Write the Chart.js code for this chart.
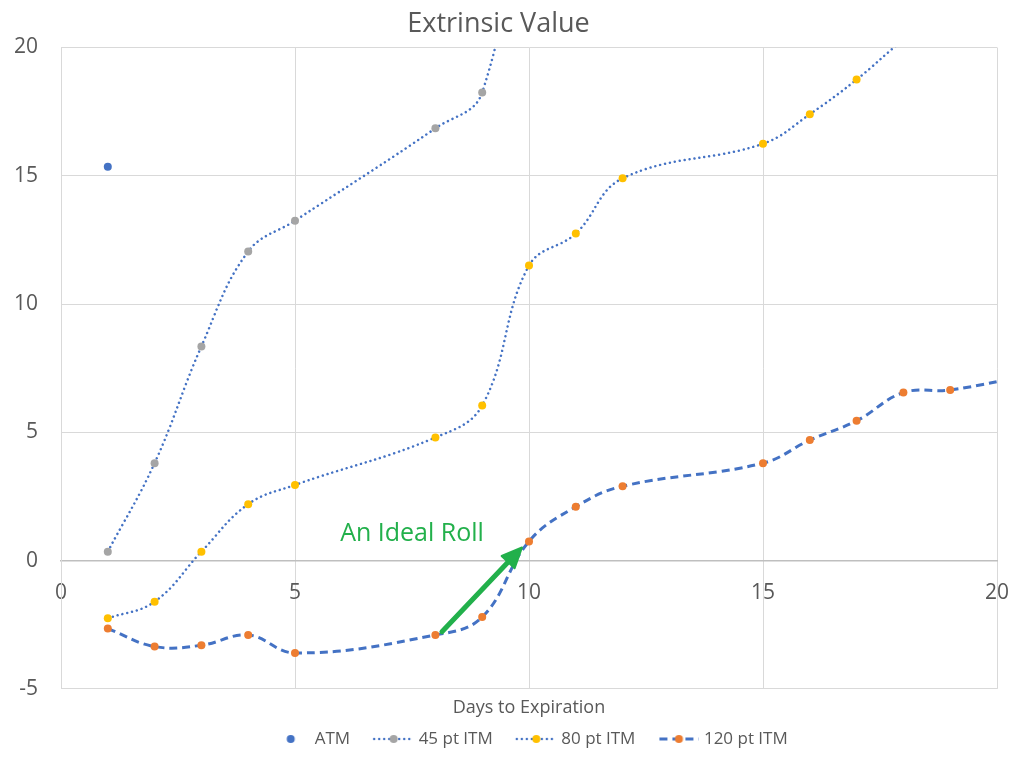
<!DOCTYPE html>
<html>
<head>
<meta charset="utf-8">
<title>Extrinsic Value</title>
<script src="https://cdn.jsdelivr.net/npm/chart.js@4.4.1/dist/chart.umd.min.js"></script>
<style>
  html, body { margin: 0; padding: 0; background: #fff; }
  #wrap { width: 1024px; height: 757px; position: relative; }
</style>
</head>
<body>
<div id="wrap"><canvas id="chartExtrinsic"></canvas></div>
<script>
// Days to expiration and extrinsic value per strike distance
var atmDays = [1];
var atmValues = [15.35];

var days45 = [1, 2, 3, 4, 5, 8, 9, 10];
var itm45 = [0.35, 3.8, 8.35, 12.05, 13.25, 16.85, 18.25, 28];

var days80 = [1, 2, 3, 4, 5, 8, 9, 10, 11, 12, 15, 16, 17, 18, 19];
var itm80 = [-2.25, -1.6, 0.35, 2.2, 2.95, 4.8, 6.05, 11.5, 12.75, 14.9, 16.25, 17.4, 18.75, 20.3, 21.6];

var days120 = [1, 2, 3, 4, 5, 8, 9, 10, 11, 12, 15, 16, 17, 18, 19, 21];
var itm120 = [-2.65, -3.35, -3.3, -2.9, -3.6, -2.9, -2.2, 0.75, 2.1, 2.9, 3.8, 4.7, 5.45, 6.55, 6.65, 7.35];

var xTicks = [0, 5, 10, 15, 20];
var yTicks = [-5, 0, 5, 10, 15, 20];

(function () {
  "use strict";

  var colors = {
    line: "#4472C4",
    atm: "#4472C4",
    gray: "#A5A5A5",
    yellow: "#FFC000",
    orange: "#ED7D31",
    text: "#595959",
    grid: "#D9D9D9",
    axis: "#BFBFBF",
    note: "#22B04B",
  };
  var FONT = "'Open Sans', 'Noto Sans', sans-serif";
  var DOTS = [0.01, 5];
  var DASHES = [8, 5];

  function pairs(xs, ys) {
    return xs.map(function (x, i) {
      return { x: x, y: ys[i] };
    });
  }

  // legend sample: short line with the marker in the middle
  function sample(dash, width, markerColor) {
    var c = document.createElement("canvas");
    c.width = 44;
    c.height = 14;
    var g = c.getContext("2d");
    if (dash) {
      g.strokeStyle = colors.line;
      g.lineWidth = width;
      g.lineCap = dash[0] < 1 ? "round" : "butt";
      g.setLineDash(dash);
      g.beginPath();
      g.moveTo(4, 7);
      g.lineTo(43.5, 7);
      g.stroke();
    }
    g.fillStyle = markerColor;
    g.beginPath();
    g.arc(dash ? 23.5 : 24.5, 7, 4, 0, Math.PI * 2);
    g.fill();
    return c;
  }

  var arrowPlugin = {
    id: "idealRoll",
    afterDatasetsDraw: function (chart) {
      var sx = chart.scales.x;
      var sy = chart.scales.y;
      var ctx = chart.ctx;
      var x0 = sx.getPixelForValue(8.14), y0 = sy.getPixelForValue(-2.77);
      var x1 = sx.getPixelForValue(9.85), y1 = sy.getPixelForValue(0.51);
      var ang = Math.atan2(y1 - y0, x1 - x0);
      var head = 22;
      ctx.save();
      ctx.strokeStyle = colors.note;
      ctx.fillStyle = colors.note;
      ctx.lineWidth = 5;
      ctx.lineCap = "round";
      ctx.beginPath();
      ctx.moveTo(x0, y0);
      ctx.lineTo(x1 - Math.cos(ang) * 8, y1 - Math.sin(ang) * 8);
      ctx.stroke();
      ctx.lineJoin = "round";
      ctx.lineWidth = 2;
      ctx.beginPath();
      ctx.moveTo(x1, y1);
      ctx.lineTo(x1 - Math.cos(ang - 0.42) * head, y1 - Math.sin(ang - 0.42) * head);
      ctx.lineTo(x1 - Math.cos(ang + 0.42) * head, y1 - Math.sin(ang + 0.42) * head);
      ctx.closePath();
      ctx.fill();
      ctx.stroke();

      ctx.font = "25px " + FONT;
      ctx.textAlign = "center";
      ctx.textBaseline = "middle";
      ctx.fillText("An Ideal Roll", sx.getPixelForValue(7.5), sy.getPixelForValue(1.05));
      ctx.restore();
    },
  };

  function lineSet(label, xs, ys, marker, dash, width) {
    return {
      label: label,
      data: pairs(xs, ys),
      showLine: true,
      borderColor: colors.line,
      borderWidth: width,
      borderDash: dash,
      borderCapStyle: dash === DOTS ? "round" : "butt",
      tension: 0.4,
      pointRadius: 4,
      pointBorderWidth: 0,
      pointBackgroundColor: marker,
      pointBorderColor: marker,
      clip: 0,
      legendSample: sample(dash, width, marker),
    };
  }

  var el = document.getElementById("chartExtrinsic");

  new Chart(el, {
    type: "scatter",
    data: {
      datasets: [
        {
          label: "ATM",
          data: pairs(atmDays, atmValues),
          showLine: false,
          pointRadius: 4,
          pointBorderWidth: 0,
          pointBackgroundColor: colors.atm,
          pointBorderColor: colors.atm,
          legendSample: sample(null, 0, colors.atm),
        },
        lineSet("45 pt ITM", days45, itm45, colors.gray, DOTS, 2.5),
        lineSet("80 pt ITM", days80, itm80, colors.yellow, DOTS, 2.5),
        lineSet("120 pt ITM", days120, itm120, colors.orange, DASHES, 3),
      ],
    },
    options: {
      responsive: true,
      maintainAspectRatio: false,
      animation: false,
      layout: { padding: { left: 0, right: 27, top: 0, bottom: -0.5 } },
      plugins: {
        tooltip: { enabled: false },
        title: {
          display: true,
          text: "Extrinsic Value",
          color: colors.text,
          font: { family: FONT, size: 27, weight: "normal" },
          padding: { top: 7.8, bottom: 7.3 },
        },
        legend: {
          position: "bottom",
          fullSize: false,
          labels: {
            color: colors.text,
            font: { family: FONT, size: 17 },
            usePointStyle: true,
            pointStyleWidth: 36,
            boxHeight: 12,
            padding: 24,
            generateLabels: function (chart) {
              return chart.data.datasets.map(function (ds, i) {
                return {
                  text: ds.label,
                  pointStyle: ds.legendSample,
                  fillStyle: "transparent",
                  strokeStyle: "transparent",
                  lineWidth: 0,
                  fontColor: colors.text,
                  hidden: false,
                  datasetIndex: i,
                };
              });
            },
          },
        },
      },
      scales: {
        x: {
          type: "linear",
          position: { y: 0 },
          min: 0,
          max: 20,
          afterBuildTicks: function (scale) {
            scale.ticks = xTicks.map(function (v) { return { value: v }; });
          },
          afterFit: function (scale) {
            scale.height = 0;
            scale.paddingLeft = 0;
            scale.paddingRight = 0;
          },
          grid: { color: colors.grid, drawTicks: false },
          border: { color: colors.axis, width: 1.5 },
          ticks: {
            color: colors.text,
            font: { family: FONT, size: 21 },
            padding: 20,
            maxRotation: 0,
          },
        },
        x2: {
          type: "linear",
          position: "bottom",
          min: 0,
          max: 20,
          grid: { display: false },
          border: { display: false },
          ticks: { display: false },
          title: {
            display: true,
            text: "Days to Expiration",
            color: colors.text,
            font: { family: FONT, size: 18 },
            padding: { top: 0, bottom: -12 },
          },
        },
        y: {
          type: "linear",
          min: -5,
          max: 20,
          afterBuildTicks: function (scale) {
            scale.ticks = yTicks.map(function (v) { return { value: v }; });
          },
          afterFit: function (scale) {
            scale.width = 61;
            scale.paddingTop = 0;
            scale.paddingBottom = 0;
          },
          grid: { color: colors.grid, drawTicks: false },
          border: { color: colors.grid },
          ticks: {
            color: colors.text,
            font: { family: FONT, size: 21 },
            padding: 23,
          },
        },
      },
    },
    plugins: [arrowPlugin],
  });
})();
</script>
</body>
</html>
